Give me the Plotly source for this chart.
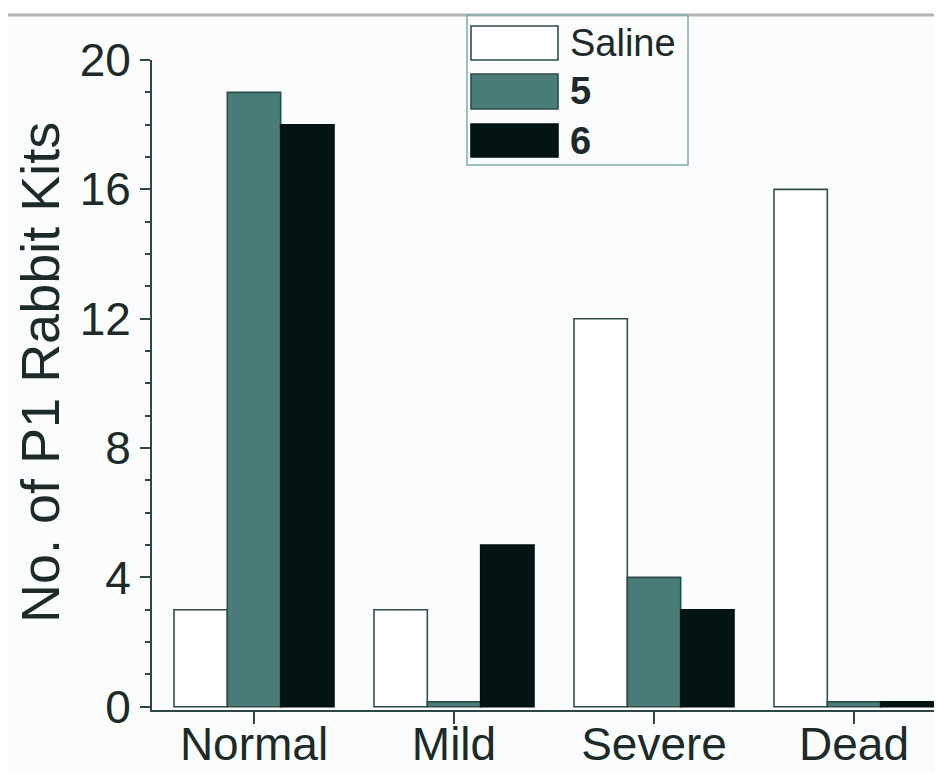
import plotly.graph_objects as go

categories = ["Normal", "Mild", "Severe", "Dead"]
series_names = ["Saline", "5", "6"]
saline = [3, 3, 12, 16]
comp5 = [19, 0.15, 4, 0.15]
comp6 = [18, 5, 3, 0.15]
y_ticks = [0, 4, 8, 12, 16, 20]

fill_colors = ["#ffffff", "#4a7c79", "#021413"]
line_colors = ["#2e4d4b", "#2c4d4a", "#021010"]

OFF = 8  # browser body margin
W, H = 942 - OFF, 772 - OFF
# plot area in page pixels: left 152, right 942, top 60, bottom 710
PL, PR, PT, PB = 152, 942, 60, 710
L, T = PL - OFF, PT - OFF
R = W - (PR - OFF)
B = H - (PB - OFF)
pw, ph = PR - PL, PB - PT

def px(x):
    return (x - PL) / pw

def py(y):
    return (PB - y) / ph

FONT = "Liberation Sans, Arial, Helvetica, sans-serif"
TXT = "#1c2b2a"

fig = go.Figure()
for name, vals, fc, lc in zip(series_names, [saline, comp5, comp6], fill_colors, line_colors):
    fig.add_trace(go.Bar(
        x=categories, y=vals, name=name,
        marker=dict(color=fc, line=dict(color=lc, width=1.6)),
        showlegend=False,
    ))

shapes = []
annotations = []
# top grey rule
shapes.append(dict(type="line", xref="paper", yref="paper",
                   x0=px(8), x1=1.0, y0=py(15), y1=py(15),
                   line=dict(color="#b4b4b4", width=3)))
# legend box
shapes.append(dict(type="rect", xref="paper", yref="paper",
                   x0=px(467), x1=px(688), y0=py(165), y1=py(15),
                   line=dict(color="#7eacab", width=1.5), fillcolor="rgba(255,255,255,0)"))
sw_y = [(26, 60), (74, 109), (124, 157)]
for (y0, y1), name, fc, lc in zip(sw_y, series_names, fill_colors, line_colors):
    shapes.append(dict(type="rect", xref="paper", yref="paper",
                       x0=px(471), x1=px(558), y0=py(y1), y1=py(y0),
                       line=dict(color=lc, width=1.6), fillcolor=fc))
    label = name if name == "Saline" else "<b>%s</b>" % name
    annotations.append(dict(xref="paper", yref="paper", x=px(568), y=py((y0 + y1) / 2),
                            text=label, showarrow=False, xanchor="left", yanchor="middle",
                            font=dict(family=FONT, size=38, color=TXT)))
# y axis title
annotations.append(dict(xref="paper", yref="paper", x=px(40), y=py(373),
                        text="No. of P1 Rabbit Kits", textangle=-90, showarrow=False,
                        xanchor="center", yanchor="middle",
                        font=dict(family=FONT, size=54, color=TXT)))

fig.update_layout(
    width=W, height=H,
    margin=dict(l=L, r=R, t=T, b=B, pad=0, autoexpand=False),
    paper_bgcolor="#fbfdfd", plot_bgcolor="#fbfdfd",
    barmode="group", bargap=0.2, bargroupgap=0,
    shapes=shapes, annotations=annotations,
    font=dict(family=FONT, color=TXT),
    xaxis=dict(
        range=[-0.51, 3.44], showline=True, linecolor="#2c4745", linewidth=2,
        ticks="outside", ticklen=12, tickwidth=2, tickcolor="#2c4745",
        tickfont=dict(family=FONT, size=46, color=TXT),
        ticklabelstandoff=-19, automargin=False,
        showgrid=False, zeroline=False, fixedrange=True,
    ),
    yaxis=dict(
        range=[-0.1, 20], showline=True, linecolor="#2c4745", linewidth=2,
        tickvals=y_ticks, ticks="outside", ticklen=10, tickwidth=2, tickcolor="#2c4745",
        minor=dict(dtick=1, ticks="outside", ticklen=5, tickwidth=2, tickcolor="#2c4745"),
        tickfont=dict(family=FONT, size=46, color=TXT),
        ticklabelstandoff=0, automargin=False,
        showgrid=False, zeroline=False, fixedrange=True,
    ),
)

fig.write_html("out.html")
